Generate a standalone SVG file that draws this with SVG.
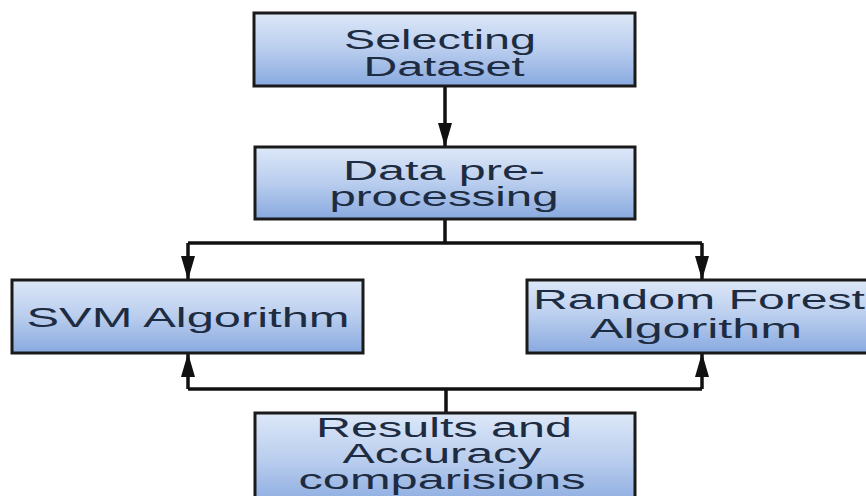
<svg xmlns="http://www.w3.org/2000/svg" width="866" height="496" viewBox="0 0 866 496">
  <defs>
    <linearGradient id="boxFill" x1="0" y1="0" x2="0" y2="1">
      <stop offset="0" stop-color="#dde8f8"/>
      <stop offset="0.5" stop-color="#b9cdee"/>
      <stop offset="1" stop-color="#88a9df"/>
    </linearGradient>
    <marker id="arrow" viewBox="0 0 24 14" refX="24" refY="7" markerWidth="24" markerHeight="14" markerUnits="userSpaceOnUse" orient="auto">
      <path d="M0,0 L24,7 L0,14 Z" fill="#111"/>
    </marker>
  </defs>
  <style>
    .box { fill: url(#boxFill); stroke: #1a1a1a; stroke-width: 3; }
    .lbl { font-family: "Liberation Sans", Arial, sans-serif; font-size: 27px; fill: #1e2c42; text-anchor: middle; }
    .conn { fill: none; stroke: #111; stroke-width: 3.5; }
  </style>
  <rect width="866" height="496" fill="#ffffff"/>

  <g id="connectors">
    <line class="conn" x1="445" y1="86" x2="445" y2="147" marker-end="url(#arrow)"/>
    <polyline class="conn" points="445,219 445,243"/>
    <polyline class="conn" points="188,243 702,243"/>
    <line class="conn" x1="188" y1="243" x2="188" y2="280" marker-end="url(#arrow)"/>
    <line class="conn" x1="702" y1="243" x2="702" y2="280" marker-end="url(#arrow)"/>
    <polyline class="conn" points="446,413 446,389"/>
    <polyline class="conn" points="188,389 702,389"/>
    <line class="conn" x1="188" y1="389" x2="188" y2="353" marker-end="url(#arrow)"/>
    <line class="conn" x1="702" y1="389" x2="702" y2="353" marker-end="url(#arrow)"/>
  </g>

  <g id="node-selecting">
    <rect class="box" x="254" y="13" width="381" height="73"/>
    <text class="lbl" x="440" y="49" textLength="192" lengthAdjust="spacingAndGlyphs">Selecting</text>
    <text class="lbl" x="444" y="76" textLength="161" lengthAdjust="spacingAndGlyphs">Dataset</text>
  </g>

  <g id="node-preprocessing">
    <rect class="box" x="255" y="147" width="380" height="72"/>
    <text class="lbl" x="444" y="180" textLength="202" lengthAdjust="spacingAndGlyphs">Data pre-</text>
    <text class="lbl" x="444" y="206" textLength="229" lengthAdjust="spacingAndGlyphs">processing</text>
  </g>

  <g id="node-svm">
    <rect class="box" x="12" y="280" width="351" height="73"/>
    <text class="lbl" x="188" y="327" textLength="323" lengthAdjust="spacingAndGlyphs">SVM Algorithm</text>
  </g>

  <g id="node-rf">
    <rect class="box" x="527" y="280" width="345" height="73"/>
    <text class="lbl" x="699" y="309" textLength="332" lengthAdjust="spacingAndGlyphs">Random Forest</text>
    <text class="lbl" x="696" y="338" textLength="212" lengthAdjust="spacingAndGlyphs">Algorithm</text>
  </g>

  <g id="node-results">
    <rect class="box" x="255" y="413" width="380" height="95"/>
    <text class="lbl" x="444" y="437" textLength="256" lengthAdjust="spacingAndGlyphs">Results and</text>
    <text class="lbl" x="442" y="463" textLength="199" lengthAdjust="spacingAndGlyphs">Accuracy</text>
    <text class="lbl" x="442" y="489" textLength="287" lengthAdjust="spacingAndGlyphs">comparisions</text>
  </g>
</svg>
